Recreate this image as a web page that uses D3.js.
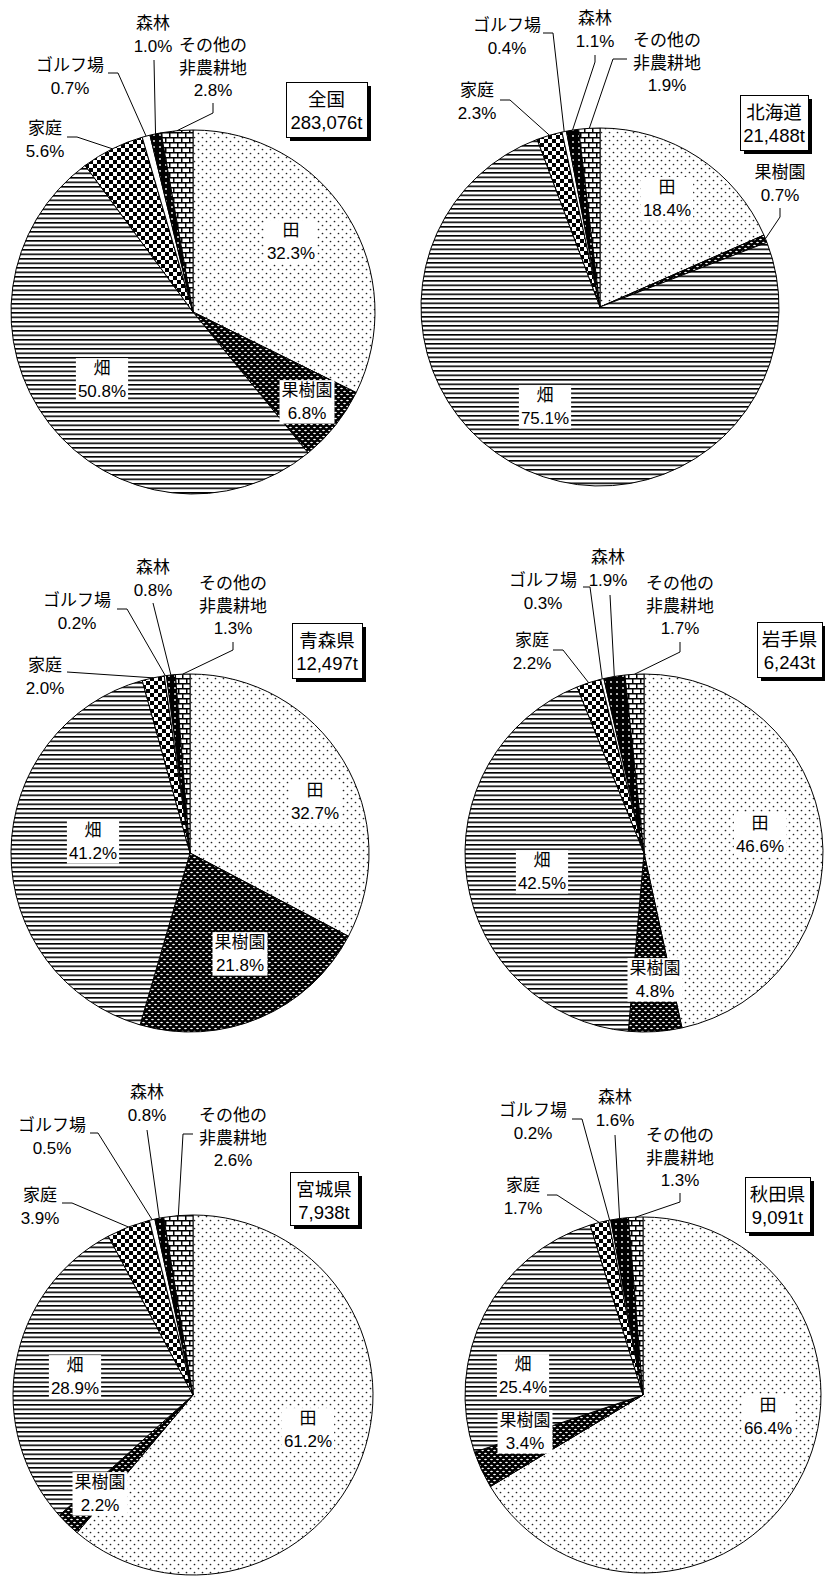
<!DOCTYPE html>
<html>
<head>
<meta charset="utf-8">
<script src="https://cdn.jsdelivr.net/npm/d3@7"></script>
<style>
  body { margin: 0; background: #fff; }
  text { font-family: "Liberation Sans", "Noto Sans CJK JP", sans-serif; font-size: 17px; fill: #000; }
</style>
</head>
<body>
<div id="chart"></div>
<script>
var width = 825, height = 1578;

// data
var categories = ["田", "果樹園", "畑", "家庭", "ゴルフ場", "森林", "その他の|非農耕地"];
var regions = ["全国", "北海道", "青森県", "岩手県", "宮城県", "秋田県"];
var totals = ["283,076t", "21,488t", "12,497t", "6,243t", "7,938t", "9,091t"];
var zenkoku  = [32.3, 6.8, 50.8, 5.6, 0.7, 1.0, 2.8];
var hokkaido = [18.4, 0.7, 75.1, 2.3, 0.4, 1.1, 1.9];
var aomori   = [32.7, 21.8, 41.2, 2.0, 0.2, 0.8, 1.3];
var iwate    = [46.6, 4.8, 42.5, 2.2, 0.3, 1.9, 1.7];
var miyagi   = [61.2, 2.2, 28.9, 3.9, 0.5, 0.8, 2.6];
var akita    = [66.4, 3.4, 25.4, 1.7, 0.2, 1.6, 1.3];
var shares = [zenkoku, hokkaido, aomori, iwate, miyagi, akita];

// fill pattern per category
var patternIds = ["p-dots", "p-weave", "p-hlines", "p-checker", "p-white", "p-blackdots", "p-brick"];

// where each pie and its labels go (label x,y = centre of first text line)
var layout = [
  { cx: 193, cy: 312, r: 182, box: [286, 82, 81, 55], labels: [
    { x: 291, y: 230, boxed: true },
    { x: 307, y: 390, boxed: true },
    { x: 102, y: 368, boxed: true },
    { x: 45, y: 128, via: [[67, 137], [77, 137]] },
    { x: 70, y: 65, via: [[108, 73], [118, 73]] },
    { x: 153, y: 23, via: [[154, 60]] },
    { x: 213, y: 45, via: [[213, 103], [213, 113]] }] },
  { cx: 600, cy: 307, r: 179, box: [740, 95, 68, 55], labels: [
    { x: 667, y: 187, boxed: true },
    { x: 780, y: 172, via: [[780, 208], [780, 217]] },
    { x: 545, y: 395, boxed: true },
    { x: 477, y: 90, via: [[500, 100], [510, 100]] },
    { x: 507, y: 25, via: [[543, 33], [553, 33]] },
    { x: 595, y: 18, via: [[595, 55], [595, 62]] },
    { x: 667, y: 40, via: [[627, 59], [613, 59]] }] },
  { cx: 190, cy: 853, r: 179, box: [292, 623, 70, 55], labels: [
    { x: 315, y: 790, boxed: true },
    { x: 240, y: 942, boxed: true },
    { x: 93, y: 830, boxed: true },
    { x: 45, y: 665, via: [[67, 672]] },
    { x: 77, y: 600, via: [[117, 609], [127, 609]] },
    { x: 153, y: 567, via: [[153, 603]] },
    { x: 233, y: 583, via: [[233, 642], [233, 650]] }] },
  { cx: 644, cy: 853, r: 179, box: [757, 622, 65, 55], labels: [
    { x: 760, y: 823, boxed: true },
    { x: 655, y: 968, boxed: true },
    { x: 542, y: 860, boxed: true },
    { x: 532, y: 640, via: [[553, 650], [563, 650]] },
    { x: 543, y: 580, via: [[583, 587], [590, 587]] },
    { x: 608, y: 557, via: [[610, 595]] },
    { x: 680, y: 583, via: [[680, 642], [680, 652]] }] },
  { cx: 193, cy: 1395, r: 180, box: [290, 1172, 68, 53], labels: [
    { x: 308, y: 1418, boxed: true },
    { x: 100, y: 1482, boxed: true },
    { x: 75, y: 1365, boxed: true },
    { x: 40, y: 1195, via: [[62, 1203], [72, 1203]] },
    { x: 52, y: 1125, via: [[90, 1133], [98, 1133]] },
    { x: 147, y: 1092, via: [[147, 1130]] },
    { x: 233, y: 1115, via: [[193, 1134], [183, 1134]] }] },
  { cx: 643, cy: 1395, r: 178, box: [745, 1177, 65, 55], labels: [
    { x: 768, y: 1405, boxed: true },
    { x: 525, y: 1420, boxed: true },
    { x: 523, y: 1364, boxed: true },
    { x: 523, y: 1185, via: [[547, 1195], [557, 1195]] },
    { x: 533, y: 1110, via: [[572, 1119], [582, 1119]] },
    { x: 615, y: 1097, via: [[615, 1135]] },
    { x: 680, y: 1135, via: [[680, 1193], [680, 1202]] }] }
];

var lineGap = 22.5;
var fmt = d3.format(".1f");

var svg = d3.select("#chart").append("svg")
    .attr("width", width)
    .attr("height", height);

// patterns
var defs = svg.append("defs");

var p = defs.append("pattern").attr("id", "p-dots").attr("patternUnits", "userSpaceOnUse")
    .attr("width", 8).attr("height", 8);
p.append("rect").attr("width", 8).attr("height", 8).attr("fill", "#fff");
p.append("circle").attr("cx", 1.5).attr("cy", 1.5).attr("r", 0.85).attr("fill", "#222");
p.append("circle").attr("cx", 5.5).attr("cy", 5.5).attr("r", 0.85).attr("fill", "#222");

p = defs.append("pattern").attr("id", "p-weave").attr("patternUnits", "userSpaceOnUse")
    .attr("width", 6).attr("height", 6);
p.append("rect").attr("width", 6).attr("height", 6).attr("fill", "#000");
p.append("ellipse").attr("cx", 1.5).attr("cy", 1.5).attr("rx", 1.4).attr("ry", 0.8).attr("fill", "#fff");
p.append("ellipse").attr("cx", 4.5).attr("cy", 4.5).attr("rx", 1.4).attr("ry", 0.8).attr("fill", "#fff");

p = defs.append("pattern").attr("id", "p-hlines").attr("patternUnits", "userSpaceOnUse")
    .attr("width", 8).attr("height", 4.5);
p.append("rect").attr("width", 8).attr("height", 4.5).attr("fill", "#fff");
p.append("rect").attr("y", 0).attr("width", 8).attr("height", 1.6).attr("fill", "#000");

p = defs.append("pattern").attr("id", "p-checker").attr("patternUnits", "userSpaceOnUse")
    .attr("width", 8).attr("height", 8);
p.append("rect").attr("width", 8).attr("height", 8).attr("fill", "#fff");
p.append("rect").attr("width", 4).attr("height", 4).attr("fill", "#000");
p.append("rect").attr("x", 4).attr("y", 4).attr("width", 4).attr("height", 4).attr("fill", "#000");

p = defs.append("pattern").attr("id", "p-white").attr("patternUnits", "userSpaceOnUse")
    .attr("width", 4).attr("height", 4);
p.append("rect").attr("width", 4).attr("height", 4).attr("fill", "#fff");

p = defs.append("pattern").attr("id", "p-blackdots").attr("patternUnits", "userSpaceOnUse")
    .attr("width", 6).attr("height", 6);
p.append("rect").attr("width", 6).attr("height", 6).attr("fill", "#000");
p.append("circle").attr("cx", 3).attr("cy", 3).attr("r", 0.9).attr("fill", "#fff");

p = defs.append("pattern").attr("id", "p-brick").attr("patternUnits", "userSpaceOnUse")
    .attr("width", 8).attr("height", 10);
p.append("rect").attr("width", 8).attr("height", 10).attr("fill", "#fff");
p.append("rect").attr("y", 0).attr("width", 8).attr("height", 1.5).attr("fill", "#000");
p.append("rect").attr("y", 5).attr("width", 8).attr("height", 1.5).attr("fill", "#000");
p.append("rect").attr("x", 0).attr("y", 0).attr("width", 1.5).attr("height", 5).attr("fill", "#000");
p.append("rect").attr("x", 4).attr("y", 5).attr("width", 1.5).attr("height", 5).attr("fill", "#000");

var pie = d3.pie().sort(null).value(function (d) { return d; });
var line = d3.line();

shares.forEach(function (values, i) {
    var L = layout[i];
    var arcs = pie(values);
    var arc = d3.arc().innerRadius(0).outerRadius(L.r);
    var edge = d3.arc().innerRadius(L.r).outerRadius(L.r);

    var g = svg.append("g")
        .attr("transform", "translate(" + L.cx + "," + L.cy + ")");

    g.selectAll("path.slice")
        .data(arcs)
        .enter().append("path")
        .attr("class", "slice")
        .attr("d", arc)
        .attr("fill", function (d, k) { return "url(#" + patternIds[k] + ")"; })
        .attr("stroke", "#000")
        .attr("stroke-width", 1)
        .attr("stroke-linejoin", "round");

    // leader lines
    arcs.forEach(function (a, k) {
        var lab = L.labels[k];
        if (!lab.via) return;
        var end = edge.centroid(a);
        var pts = lab.via.map(function (q) { return [q[0] - L.cx, q[1] - L.cy]; });
        pts.push(end);
        g.append("path")
            .attr("d", line(pts))
            .attr("fill", "none")
            .attr("stroke", "#000")
            .attr("stroke-width", 1);
    });

    // labels
    arcs.forEach(function (a, k) {
        var lab = L.labels[k];
        var lines = categories[k].split("|").concat([fmt(values[k]) + "%"]);
        var lg = svg.append("g");
        var t = lg.append("text").attr("text-anchor", "middle");
        lines.forEach(function (s, j) {
            t.append("tspan")
                .attr("x", lab.x)
                .attr("y", lab.y + j * lineGap)
                .attr("dy", "0.36em")
                .text(s);
        });
        if (lab.boxed) {
            var bb = t.node().getBBox();
            lg.insert("rect", "text")
                .attr("x", bb.x - 2)
                .attr("y", bb.y - 1)
                .attr("width", bb.width + 4)
                .attr("height", bb.height + 2)
                .attr("fill", "#fff");
        }
    });

    // title box with shadow
    var b = L.box;
    svg.append("rect")
        .attr("x", b[0] + 4).attr("y", b[1] + 4)
        .attr("width", b[2]).attr("height", b[3])
        .attr("fill", "#000");
    svg.append("rect")
        .attr("x", b[0] + 0.5).attr("y", b[1] + 0.5)
        .attr("width", b[2]).attr("height", b[3])
        .attr("fill", "#fff").attr("stroke", "#000").attr("stroke-width", 1);
    var tt = svg.append("text").attr("text-anchor", "middle").style("font-size", "18.5px");
    [regions[i], totals[i]].forEach(function (s, j) {
        tt.append("tspan")
            .attr("x", b[0] + b[2] / 2)
            .attr("y", b[1] + 17 + j * 23)
            .attr("dy", "0.36em")
            .text(s);
    });
});
</script>
</body>
</html>
